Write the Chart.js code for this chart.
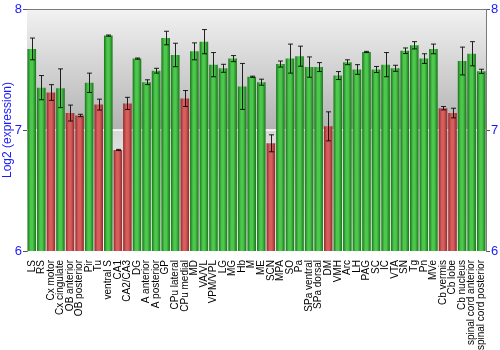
<!DOCTYPE html>
<html>
<head>
<meta charset="utf-8">
<script src="https://cdn.jsdelivr.net/npm/chart.js@4/dist/chart.umd.min.js"></script>
<style>
html,body{margin:0;padding:0;background:#fff;}
#wrap{width:500px;height:350px;}
</style>
</head>
<body>
<div id="wrap"><canvas id="c" width="500" height="350"></canvas></div>
<script>
const categories = ["LS","RS","Cx motor","Cx cingulate","OB anterior","OB posterior","Pir","Tu","ventral S","CA1","CA2/CA3","DG","A anterior","A posterior","GP","CPu lateral","CPu medial","MD","VA/VL","VPM/VPL","LG","MG","Hb","M","ME","SCN","MPA","SO","Pa","SPa ventral","SPa dorsal","DM","VMH","Arc","LH","PAG","SC","IC","VTA","SN","Tg","Pn","MVe","Cb vermis","Cb lobe","Cb nucleus","spinal cord anterior","spinal cord posterior"];
const values = [7.67,7.35,7.31,7.345,7.14,7.12,7.39,7.21,7.78,6.835,7.22,7.59,7.395,7.49,7.76,7.62,7.26,7.65,7.73,7.54,7.51,7.59,7.36,7.44,7.395,6.89,7.545,7.59,7.61,7.52,7.52,7.03,7.45,7.56,7.50,7.645,7.50,7.54,7.51,7.655,7.70,7.59,7.67,7.18,7.14,7.57,7.63,7.485];
const errors = [0.09,0.10,0.065,0.16,0.066,0.01,0.08,0.045,0.005,0.005,0.05,0.005,0.02,0.02,0.056,0.097,0.066,0.07,0.10,0.10,0.033,0.025,0.19,0.005,0.025,0.07,0.025,0.12,0.083,0.084,0.037,0.12,0.033,0.02,0.04,0.005,0.025,0.10,0.025,0.023,0.03,0.04,0.04,0.014,0.04,0.115,0.10,0.017];
const lowRegions = ["Cx motor","OB anterior","OB posterior","Tu","CA1","CA2/CA3","CPu medial","SCN","DM","Cb vermis","Cb lobe"];
const yTicks = [6,7,8];

const BLUE = '#1a1aff';
function barFill(ctx){
  const chart = ctx.chart;
  const isLow = lowRegions.includes(categories[ctx.dataIndex]);
  const dark = isLow ? '#8e2a2a' : '#1a721a';
  const light = isLow ? '#d85e5e' : '#4cc84c';
  const xs = chart.scales.x;
  if(!chart.chartArea || !xs || ctx.dataIndex === undefined) return light;
  const cx = xs.getPixelForValue(ctx.dataIndex);
  const w = (xs.width / categories.length) * 0.9;
  const g = chart.ctx.createLinearGradient(cx - w/2, 0, cx + w/2, 0);
  g.addColorStop(0, dark);
  g.addColorStop(0.35, light);
  g.addColorStop(0.6, light);
  g.addColorStop(1, dark);
  return g;
}

const bgPlugin = {
  id:'bg',
  beforeDatasetsDraw(chart){
    const {ctx, chartArea:a, scales} = chart;
    const y7 = scales.y.getPixelForValue(7);
    ctx.save();
    let g = ctx.createLinearGradient(0, a.top, 0, y7);
    g.addColorStop(0, '#f2f2f2');
    g.addColorStop(1, '#b2b2b2');
    ctx.fillStyle = g;
    ctx.fillRect(a.left, a.top, a.right - a.left, y7 - a.top);
    g = ctx.createLinearGradient(0, y7, 0, a.bottom);
    g.addColorStop(0, '#d8d8d8');
    g.addColorStop(1, '#ffffff');
    ctx.fillStyle = g;
    ctx.fillRect(a.left, y7, a.right - a.left, a.bottom - y7);
    ctx.strokeStyle = '#ffffff';
    ctx.lineWidth = 1.5;
    ctx.beginPath(); ctx.moveTo(a.left, y7); ctx.lineTo(a.right, y7); ctx.stroke();
    ctx.restore();
  },
  afterDatasetsDraw(chart){
    const {ctx, chartArea:a, scales} = chart;
    const meta = chart.getDatasetMeta(0);
    ctx.save();
    ctx.strokeStyle = 'rgba(0,0,0,0.85)';
    ctx.lineWidth = 1;
    meta.data.forEach((bar, i) => {
      const x = Math.round(bar.x) + 0.5;
      const yt = scales.y.getPixelForValue(values[i] + errors[i]);
      const yb = scales.y.getPixelForValue(values[i] - errors[i]);
      ctx.beginPath();
      ctx.moveTo(x, yt); ctx.lineTo(x, yb);
      ctx.moveTo(x - 2.5, yt); ctx.lineTo(x + 2.5, yt);
      ctx.moveTo(x - 2.5, yb); ctx.lineTo(x + 2.5, yb);
      ctx.stroke();
    });
    ctx.strokeStyle = '#7a7a7a';
    ctx.beginPath(); ctx.moveTo(a.left, a.top + 0.5); ctx.lineTo(a.right, a.top + 0.5); ctx.stroke();
    ctx.restore();
  }
};

new Chart(document.getElementById('c'), {
  type:'bar',
  data:{
    labels: categories,
    datasets:[{
      data: values,
      backgroundColor: barFill,
      borderWidth: 0,
      categoryPercentage: 1.0,
      barPercentage: 0.9
    }]
  },
  options:{
    responsive:false,
    animation:false,
    devicePixelRatio:1,
    layout:{padding:{top:9,left:0,right:0,bottom:0}},
    plugins:{legend:{display:false},tooltip:{enabled:false}},
    scales:{
      x:{
        grid:{display:false},
        border:{display:false},
        ticks:{
          autoSkip:false, maxRotation:90, minRotation:90, padding:1,
          color:'#000', font:{family:'Liberation Sans, Arial, sans-serif', size:10}
        },
        afterFit(s){ s.height = 99; }
      },
      y:{
        position:'left', min:6, max:8,
        afterBuildTicks(s){ s.ticks = yTicks.map(v => ({value:v})); },
        grid:{drawOnChartArea:false, tickLength:4, color:'#555'},
        border:{display:true, color:'#7a7a7a'},
        ticks:{color:BLUE, padding:1, font:{family:'Liberation Sans, Arial, sans-serif', size:13}},
        title:{display:true, text:'Log2 (expression)', color:BLUE, padding:{top:0,bottom:0}, font:{family:'Liberation Sans, Arial, sans-serif', size:12}},
        afterFit(s){ s.width = 27; }
      },
      y2:{
        position:'right', min:6, max:8,
        afterBuildTicks(s){ s.ticks = yTicks.map(v => ({value:v})); },
        grid:{drawOnChartArea:false, tickLength:4, color:'#555'},
        border:{display:true, color:'#7a7a7a'},
        ticks:{color:BLUE, padding:1, font:{family:'Liberation Sans, Arial, sans-serif', size:13}},
        afterFit(s){ s.width = 14; }
      }
    }
  },
  plugins:[bgPlugin]
});
</script>
</body>
</html>
